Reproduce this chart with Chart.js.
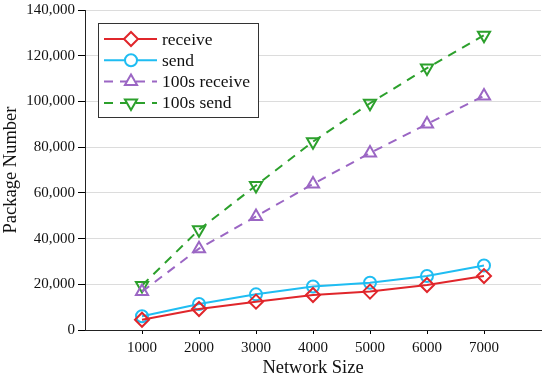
<!DOCTYPE html>
<html>
<head>
<meta charset="utf-8">
<script src="https://cdn.jsdelivr.net/npm/chart.js@4"></script>
<style>
  html, body { margin: 0; padding: 0; background: #fff; }
  #wrap { width: 550px; height: 379px; }
</style>
</head>
<body>
<div id="wrap"><canvas id="pkgChart" width="550" height="379"></canvas></div>
<script>
const networkSizes = [1000, 2000, 3000, 4000, 5000, 6000, 7000];
const receive = [4500, 9200, 12400, 15300, 16800, 19700, 23600];
const send = [6000, 11400, 15600, 19000, 20700, 23600, 28200];
const receive100s = [16800, 35600, 49700, 63900, 77400, 90100, 102400];
const send100s = [19500, 43900, 63200, 82400, 99200, 114600, 129000];
const yTicks = [0, 20000, 40000, 60000, 80000, 100000, 120000, 140000];

const serif = "'Liberation Serif', 'Times New Roman', serif";

function toPoints(values) {
    return networkSizes.map((s, i) => ({ x: s, y: values[i] }));
}

function makeSeries(label, values, color, marker, dashed) {
    return {
        label: label,
        data: toPoints(values),
        borderColor: color,
        backgroundColor: color,
        borderWidth: 2,
        borderDash: dashed ? [9, 7] : [],
        pointStyle: marker.style,
        rotation: marker.rotation || 0,
        pointRadius: marker.radius,
        pointBorderWidth: 2,
        pointBorderColor: color,
        pointBackgroundColor: "rgba(255,255,255,0)",
        tension: 0,
    };
}

// boxed legend inside the plot, line + marker like the original figure
const boxLegend = {
    id: "boxLegend",
    afterDraw(chart) {
        const ctx = chart.ctx;
        const area = chart.chartArea;
        const x0 = area.left + 13;
        const y0 = area.top + 13;
        const w = 160;
        const h = 94;
        ctx.save();
        ctx.fillStyle = "#fff";
        ctx.fillRect(x0, y0, w, h);
        ctx.strokeStyle = "#333";
        ctx.lineWidth = 1;
        ctx.strokeRect(x0 + 0.5, y0 + 0.5, w, h);

        chart.data.datasets.forEach((ds, i) => {
            const cy = y0 + 16 + i * 21.3;
            ctx.strokeStyle = ds.borderColor;
            ctx.lineWidth = 2;
            ctx.setLineDash(ds.borderDash);
            ctx.beginPath();
            ctx.moveTo(x0 + 6, cy);
            ctx.lineTo(x0 + 59, cy);
            ctx.stroke();
            ctx.setLineDash([]);
            ctx.fillStyle = "#fff";
            Chart.helpers.drawPoint(ctx, {
                pointStyle: ds.pointStyle,
                rotation: ds.rotation,
                radius: ds.pointRadius,
                borderWidth: 2,
            }, x0 + 33, cy);
            ctx.fillStyle = "#111";
            ctx.font = "17.5px " + serif;
            ctx.textBaseline = "middle";
            ctx.fillText(ds.label, x0 + 64, cy + 1);
        });
        ctx.restore();
    },
};

document.addEventListener("DOMContentLoaded", () => {
    const ctx = document.getElementById("pkgChart").getContext("2d");
    new Chart(ctx, {
        type: "line",
        data: {
            datasets: [
                makeSeries("receive", receive, "#e0262b", { style: "rectRot", radius: 7 }, false),
                makeSeries("send", send, "#1fbdf2", { style: "circle", radius: 6 }, false),
                makeSeries("100s receive", receive100s, "#9b66c4", { style: "triangle", radius: 7 }, true),
                makeSeries("100s send", send100s, "#2ca02c", { style: "triangle", rotation: 180, radius: 7 }, true),
            ],
        },
        options: {
            responsive: false,
            animation: false,
            layout: { padding: { top: 10, right: 5, left: 0, bottom: 0 } },
            plugins: {
                legend: { display: false },
                tooltip: { enabled: false },
            },
            scales: {
                x: {
                    type: "linear",
                    min: 0,
                    max: 8000,
                    afterBuildTicks: (axis) => {
                        axis.ticks = networkSizes.map((v) => ({ value: v }));
                    },
                    afterFit: (axis) => {
                        axis.height = 49;
                        axis.paddingLeft = 0;
                        axis.paddingRight = 0;
                    },
                    grid: {
                        drawOnChartArea: false,
                        drawTicks: true,
                        tickLength: 4,
                        tickColor: "#000",
                    },
                    border: { display: true, color: "#222", width: 1 },
                    ticks: {
                        color: "#111",
                        font: { family: serif, size: 15 },
                        padding: 5,
                        maxRotation: 0,
                        callback: (v) => String(v),
                    },
                    title: {
                        display: true,
                        text: "Network Size",
                        color: "#111",
                        font: { family: serif, size: 18.5 },
                        padding: { top: 0, bottom: 0 },
                    },
                },
                y: {
                    min: 0,
                    max: 140000,
                    afterBuildTicks: (axis) => {
                        axis.ticks = yTicks.map((v) => ({ value: v }));
                    },
                    afterFit: (axis) => {
                        axis.width = 85;
                        axis.paddingTop = 0;
                        axis.paddingBottom = 0;
                    },
                    grid: {
                        color: "#dcdcdc",
                        tickColor: "#000",
                        tickLength: 7,
                    },
                    border: { display: true, color: "#222", width: 1 },
                    ticks: {
                        color: "#111",
                        font: { family: serif, size: 15 },
                        padding: 3,
                        callback: (v) => v.toLocaleString("en-US"),
                    },
                    title: {
                        display: true,
                        text: "Package Number",
                        color: "#111",
                        font: { family: serif, size: 18.5 },
                        padding: { top: 0, bottom: 0 },
                    },
                },
            },
        },
        plugins: [boxLegend],
    });
});
</script>
</body>
</html>
